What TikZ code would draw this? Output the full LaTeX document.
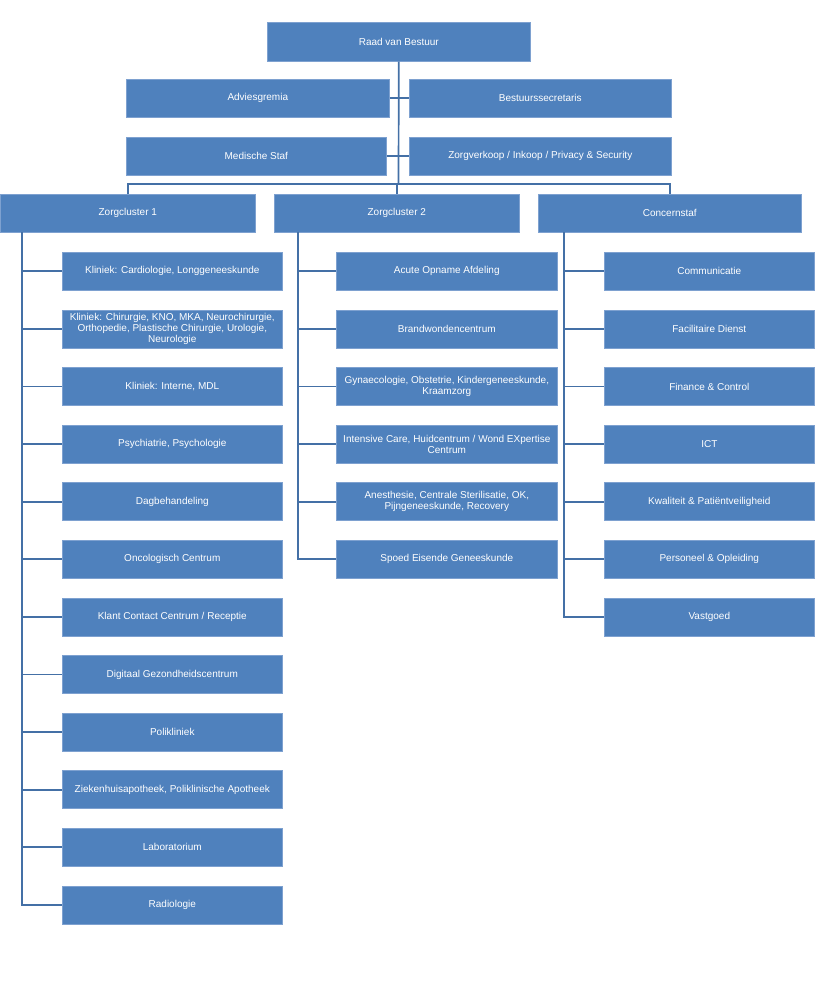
\documentclass[tikz,border=0pt]{standalone}
\usepackage{fontspec}
\setmainfont{Liberation Sans}
\definecolor{boxfill}{HTML}{4F81BD}
\definecolor{boxedge}{HTML}{7EA1D0}
\definecolor{connc}{HTML}{4470A6}
\tikzset{
  box/.style={draw=boxedge, line width=0.6pt, fill=boxfill, text=white, anchor=north west,
    inner sep=1pt, align=center, font=\fontsize{10}{11}\selectfont},
  conn/.style={draw=connc, line width=1.7pt}
}
\begin{document}
\begin{tikzpicture}[x=1pt,y=-1pt]
\useasboundingbox (0,0) rectangle (823,998);
% top level
\node[box, minimum width=263pt, minimum height=39pt] (raad) at (267,22) {Raad van Bestuur};
\node[box, minimum width=263pt, minimum height=38pt] (adv) at (126,79) {Adviesgremia};
\node[box, minimum width=262pt, minimum height=38pt] (bes) at (409,79) {Bestuurssecretaris};
\node[box, minimum width=260pt, minimum height=38pt] (med) at (126,137) {Medische Staf};
\node[box, minimum width=262pt, minimum height=38pt] (zv) at (409,137) {Zorgverkoop / Inkoop / Privacy \& Security};
\node[box, minimum width=255pt, minimum height=38pt] (zc1) at (0,194) {Zorgcluster 1};
\node[box, minimum width=245pt, minimum height=38pt] (zc2) at (274,194) {Zorgcluster 2};
\node[box, minimum width=263pt, minimum height=38pt] (con) at (538,194) {Concernstaf};
% left column
\tikzset{lbox/.style={box, minimum width=220pt, minimum height=38pt}}
\node[lbox] (l1) at (62,252.0) {Kliniek: Cardiologie, Longgeneeskunde};
\node[lbox] (l2) at (62,309.6) {Kliniek: Chirurgie, KNO, MKA, Neurochirurgie,\\Orthopedie, Plastische Chirurgie, Urologie,\\Neurologie};
\node[lbox] (l3) at (62,367.2) {Kliniek: Interne, MDL};
\node[lbox] (l4) at (62,424.8) {Psychiatrie, Psychologie};
\node[lbox] (l5) at (62,482.4) {Dagbehandeling};
\node[lbox] (l6) at (62,540.0) {Oncologisch Centrum};
\node[lbox] (l7) at (62,597.6) {Klant Contact Centrum / Receptie};
\node[lbox] (l8) at (62,655.2) {Digitaal Gezondheidscentrum};
\node[lbox] (l9) at (62,712.8) {Polikliniek};
\node[lbox] (l10) at (62,770.4) {Ziekenhuisapotheek, Poliklinische Apotheek};
\node[lbox] (l11) at (62,828.0) {Laboratorium};
\node[lbox] (l12) at (62,885.6) {Radiologie};
% middle column
\tikzset{mbox/.style={box, minimum width=221pt, minimum height=38pt}}
\node[mbox] (m1) at (336,252.0) {Acute Opname Afdeling};
\node[mbox] (m2) at (336,309.6) {Brandwondencentrum};
\node[mbox] (m3) at (336,367.2) {Gynaecologie, Obstetrie, Kindergeneeskunde,\\Kraamzorg};
\node[mbox] (m4) at (336,424.8) {Intensive Care, Huidcentrum / Wond EXpertise\\Centrum};
\node[mbox] (m5) at (336,482.4) {Anesthesie, Centrale Sterilisatie, OK,\\Pijngeneeskunde, Recovery};
\node[mbox] (m6) at (336,540.0) {Spoed Eisende Geneeskunde};
% right column
\tikzset{rbox/.style={box, minimum width=210pt, minimum height=38pt}}
\node[rbox] (r1) at (604,252.0) {Communicatie};
\node[rbox] (r2) at (604,309.6) {Facilitaire Dienst};
\node[rbox] (r3) at (604,367.2) {Finance \& Control};
\node[rbox] (r4) at (604,424.8) {ICT};
\node[rbox] (r5) at (604,482.4) {Kwaliteit \& Pati\"entveiligheid};
\node[rbox] (r6) at (604,540.0) {Personeel \& Opleiding};
\node[rbox] (r7) at (604,597.6) {Vastgoed};
% connectors top
\coordinate (hub) at (398.5,184);
\draw[conn] (raad.south) -- (hub);
\draw[conn] (adv.east) -- (bes.west);
\draw[conn] (med.east) -- (zv.west);
\draw[conn] (zc1.north) |- (hub);
\draw[conn] (con.north) |- (hub);
\draw[conn] (zc2.north) |- (hub);
% trunks
\coordinate (t1) at (22,232);
\coordinate (t2) at (298,232);
\coordinate (t3) at (564,232);
\foreach \n in {l1,l2,l3,l4,l5,l6,l7,l8,l9,l10,l11,l12} {\draw[conn] (t1) |- (\n.west);}
\foreach \n in {m1,m2,m3,m4,m5,m6} {\draw[conn] (t2) |- (\n.west);}
\foreach \n in {r1,r2,r3,r4,r5,r6,r7} {\draw[conn] (t3) |- (\n.west);}
\end{tikzpicture}
\end{document}
